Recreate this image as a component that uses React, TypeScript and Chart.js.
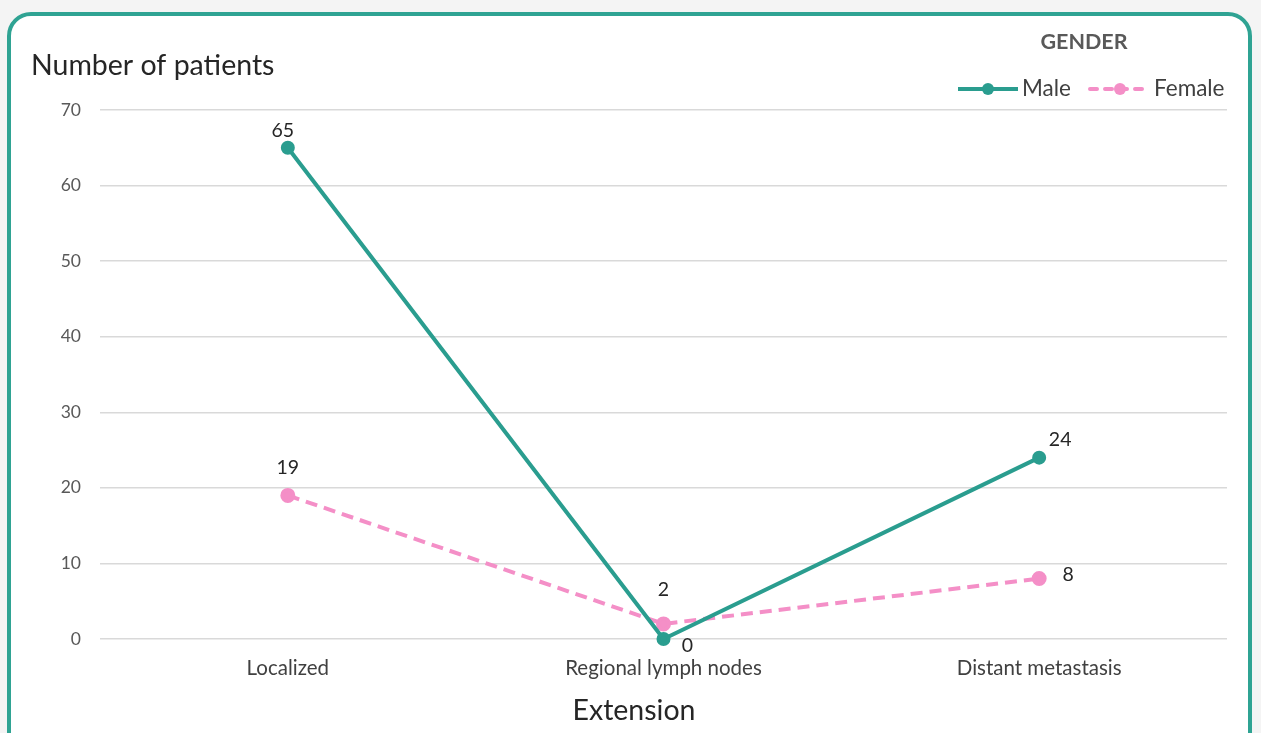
import React, { useEffect, useRef } from 'react';
import { Chart, registerables } from 'chart.js';

Chart.register(...registerables);

const categories = ['Localized', 'Regional lymph nodes', 'Distant metastasis'];
const maleValues = [65, 0, 24];
const femaleValues = [19, 2, 8];
const seriesNames = ['Male', 'Female'];
const legendTitle = 'GENDER';
const yAxisTitle = 'Number of patients';
const xAxisTitle = 'Extension';
const yMin = 0;
const yMax = 70;
const yStep = 10;

const MALE = '#2A9D8F';
const FEMALE = '#F48FC7';
const BORDER = '#2FA393';
const FONT = 'Lato, "Open Sans", "Noto Sans", sans-serif';
// label offsets (dx, dy) per dataset / point, relative to the point
const labelOffsets = [
  [[-5, -17], [24, 7], [21, -18]],
  [[0, -28], [0, -34], [29, -4]],
];

const decorPlugin = {
  id: 'decor',
  beforeDraw(chart: any) {
    const ctx = chart.ctx;
    ctx.save();
    ctx.fillStyle = '#F4F4F4';
    ctx.fillRect(0, 0, chart.width, chart.height);
    ctx.beginPath();
    (ctx as any).roundRect(9, 14, 1241, 760, 22);
    ctx.fillStyle = '#FFFFFF';
    ctx.fill();
    ctx.restore();
  },
  afterDatasetsDraw(chart: any) {
    const ctx = chart.ctx;
    ctx.save();
    ctx.font = `19.5px ${FONT}`;
    ctx.fillStyle = '#262626';
    ctx.textAlign = 'center';
    ctx.textBaseline = 'middle';
    chart.data.datasets.forEach((ds: any, di: number) => {
      const meta = chart.getDatasetMeta(di);
      meta.data.forEach((pt: any, i: number) => {
        const [dx, dy] = labelOffsets[di][i];
        ctx.fillText(String(ds.data[i]), pt.x + dx, pt.y + dy);
      });
    });
    ctx.restore();
  },
  afterDraw(chart: any) {
    const ctx = chart.ctx;
    ctx.save();
    // axis titles
    ctx.fillStyle = '#262626';
    ctx.font = `28.5px ${FONT}`;
    ctx.textBaseline = 'middle';
    ctx.textAlign = 'left';
    ctx.fillText(yAxisTitle, 31, 66);
    ctx.textAlign = 'center';
    ctx.fillText(xAxisTitle, 634, 711);

    // legend
    ctx.fillStyle = '#595959';
    ctx.font = `bold 21.5px ${FONT}`;
    ctx.textAlign = 'center';
    ctx.fillText(legendTitle, 1084, 42);

    const drawItem = (x0: number, color: string, dash: number[], label: string) => {
      ctx.save();
      ctx.strokeStyle = color;
      ctx.lineWidth = 4;
      ctx.lineCap = dash.length ? 'round' : 'butt';
      ctx.setLineDash(dash);
      ctx.beginPath();
      ctx.moveTo(x0, 89);
      ctx.lineTo(x0 + 60, 89);
      ctx.stroke();
      ctx.setLineDash([]);
      ctx.fillStyle = color;
      ctx.beginPath();
      ctx.arc(x0 + 30, 89, 6, 0, Math.PI * 2);
      ctx.fill();
      ctx.restore();
      ctx.fillStyle = '#404040';
      ctx.font = `22.5px ${FONT}`;
      ctx.textAlign = 'left';
      ctx.fillText(label, x0 + 64, 89);
    };
    drawItem(958, MALE, [], seriesNames[0]);
    drawItem(1090, FEMALE, [7, 8], seriesNames[1]);

    // border
    ctx.beginPath();
    (ctx as any).roundRect(9, 14, 1241, 760, 22);
    ctx.strokeStyle = BORDER;
    ctx.lineWidth = 4;
    ctx.stroke();
    ctx.restore();
  },
};

export default function App() {
  const ref = useRef<HTMLCanvasElement | null>(null);
  useEffect(() => {
    if (!ref.current) return;
    const chart = new Chart(ref.current, {
      type: 'line',
      data: {
        labels: categories,
        datasets: [
          {
            label: seriesNames[0],
            data: maleValues,
            borderColor: MALE,
            backgroundColor: MALE,
            pointBackgroundColor: MALE,
            pointBorderColor: MALE,
            borderWidth: 4,
            pointRadius: 5,
            tension: 0,
            clip: false as any,
          },
          {
            label: seriesNames[1],
            data: femaleValues,
            borderColor: FEMALE,
            backgroundColor: FEMALE,
            pointBackgroundColor: FEMALE,
            pointBorderColor: FEMALE,
            borderWidth: 4,
            borderDash: [12, 7],
            pointRadius: 5.5,
            tension: 0,
            clip: false as any,
          },
        ],
      },
      options: {
        responsive: false,
        animation: false,
        layout: { padding: { left: 0, right: 34, top: 110, bottom: 0 } },
        plugins: { legend: { display: false }, tooltip: { enabled: false }, title: { display: false } },
        scales: {
          x: {
            offset: true,
            grid: { display: false, drawTicks: false },
            border: { display: false },
            ticks: { font: { family: FONT, size: 20.5 }, color: '#404040', padding: 17, maxRotation: 0 },
            afterFit: (s: any) => { s.height = 94; },
          },
          y: {
            min: yMin,
            max: yMax,
            grid: { color: '#D9D9D9', lineWidth: 1.5, drawTicks: false },
            border: { display: false },
            ticks: { stepSize: yStep, font: { family: FONT, size: 17.5 }, color: '#595959', padding: 19 },
            afterFit: (s: any) => { s.width = 100; },
          },
        },
      },
      plugins: [decorPlugin],
    });
    return () => chart.destroy();
  }, []);
  return (
    <canvas
      ref={ref}
      width={1261}
      height={733}
      style={{ position: 'fixed', left: 0, top: 0, width: 1261, height: 733 }}
    />
  );
}
